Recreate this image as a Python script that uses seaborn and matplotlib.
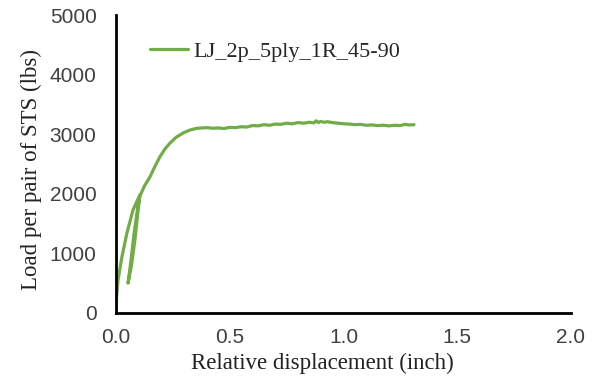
import matplotlib
matplotlib.use("Agg")
import matplotlib.pyplot as plt
import seaborn as sns
import pandas as pd

# curve (inch, lbs)
disp = [0.000, 0.002, 0.009, 0.026, 0.048, 0.075, 0.105, 0.095, 0.083, 0.068, 0.053,
        0.065, 0.080, 0.095, 0.105, 0.125, 0.149, 0.170, 0.193, 0.215, 0.237, 0.265,
        0.295, 0.325, 0.356, 0.380, 0.400, 0.425, 0.450, 0.475, 0.500, 0.525, 0.550,
        0.575, 0.600, 0.625, 0.650, 0.675, 0.700, 0.725, 0.750, 0.775, 0.800, 0.825,
        0.850, 0.870, 0.880, 0.890, 0.900, 0.915, 0.930, 0.950, 0.975, 1.000, 1.025,
        1.050, 1.075, 1.100, 1.125, 1.150, 1.175, 1.200, 1.225, 1.250, 1.270, 1.290,
        1.310]
load = [0, 250, 550, 940, 1340, 1730, 1980, 1650, 1220, 800, 500,
        850, 1350, 1750, 1960, 2130, 2280, 2450, 2620, 2750, 2850, 2950,
        3020, 3070, 3100, 3105, 3110, 3100, 3105, 3095, 3115, 3110, 3125,
        3120, 3145, 3140, 3160, 3150, 3170, 3165, 3185, 3175, 3195, 3185,
        3200, 3190, 3225, 3195, 3215, 3200, 3210, 3195, 3185, 3175, 3170,
        3160, 3165, 3150, 3155, 3145, 3150, 3140, 3150, 3145, 3165, 3155,
        3160]
series = "LJ_2p_5ply_1R_45-90"

df = pd.DataFrame({"disp": disp, "load": load, "s": series})

sns.set_theme(style="white")
plt.rcParams["font.family"] = ["Liberation Serif", "DejaVu Serif"]

fig = plt.figure(figsize=(5.96, 3.83), dpi=100)
ax = fig.add_axes([0.1946, 0.1828, 0.7634, 0.778])

sns.lineplot(data=df, x="disp", y="load", hue="s", palette=["#70AD47"],
             sort=False, estimator=None, linewidth=2.3, ax=ax)

ax.set_xlim(0, 2.0)
ax.set_ylim(0, 5000)
ax.set_xticks([0, 0.5, 1.0, 1.5, 2.0])
ax.set_yticks([0, 1000, 2000, 3000, 4000, 5000])
ax.set_xticklabels(["0.0", "0.5", "1.0", "1.5", "2.0"])
for lab in ax.get_xticklabels() + ax.get_yticklabels():
    lab.set_family("Liberation Sans")
    lab.set_fontsize(15)
    lab.set_color("#404040")
ax.tick_params(axis="x", length=0, pad=11)
ax.tick_params(axis="y", length=0, pad=14)

ax.set_xlabel("Relative displacement (inch)", fontsize=16.5, color="#222222")
ax.set_ylabel("Load per pair of STS (lbs)", fontsize=16.5, color="#222222")
ax.xaxis.set_label_coords(0.453, -0.134)
ax.yaxis.set_label_coords(-0.162, 0.483)

for sp in ["top", "right"]:
    ax.spines[sp].set_visible(False)
for sp in ["left", "bottom"]:
    ax.spines[sp].set_color("black")
    ax.spines[sp].set_linewidth(2)

leg = ax.legend(loc="center left", bbox_to_anchor=(0.075, 0.876), frameon=False,
                fontsize=16, handlelength=1.7, handletextpad=0.25,
                borderpad=0, borderaxespad=0)

fig.savefig("out.png", dpi=100)
